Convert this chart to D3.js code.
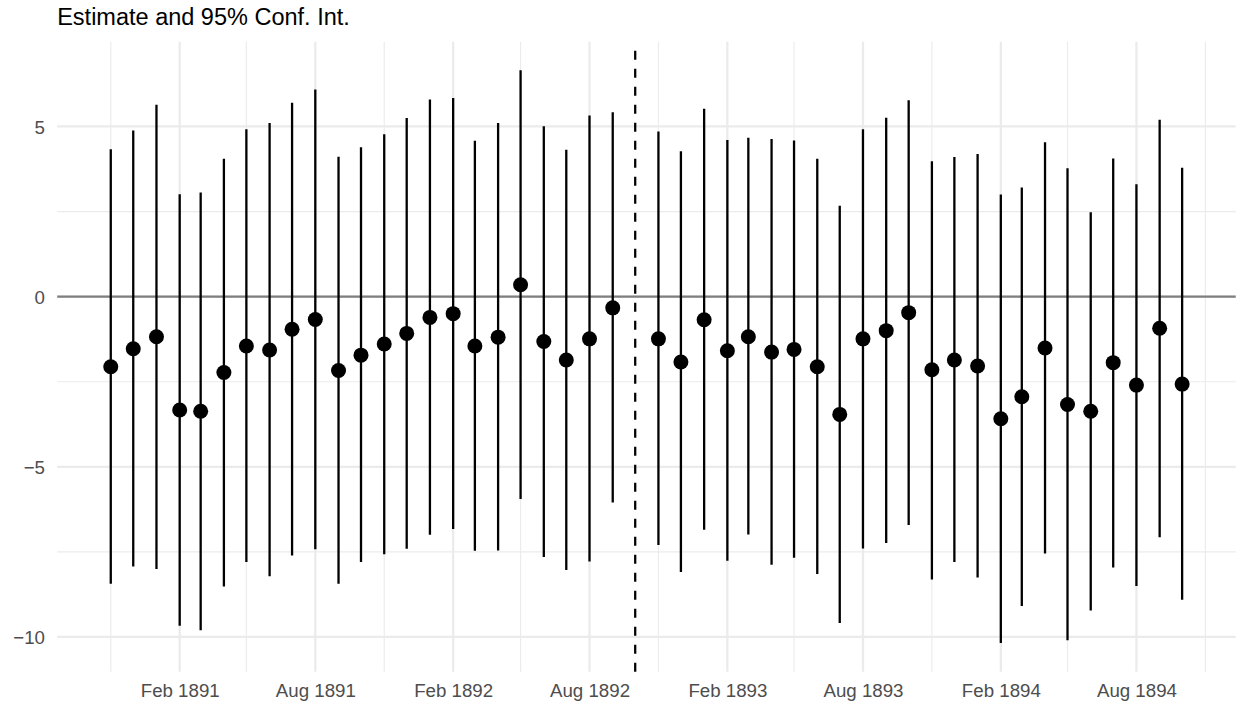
<!DOCTYPE html>
<html>
<head>
<meta charset="utf-8">
<script src="https://cdn.jsdelivr.net/npm/d3@7"></script>
<style>
  body { margin: 0; background: #ffffff; }
  svg { display: block; }
  text { font-family: "Liberation Sans", Arial, Helvetica, sans-serif; }
</style>
</head>
<body>
<svg id="chart" width="1238" height="706"></svg>
<script>
// Monthly event-study estimates with 95% confidence intervals
const months = [
  "1890-11","1890-12","1891-01","1891-02","1891-03","1891-04","1891-05","1891-06",
  "1891-07","1891-08","1891-09","1891-10","1891-11","1891-12","1892-01","1892-02",
  "1892-03","1892-04","1892-05","1892-06","1892-07","1892-08","1892-09",
  "1892-11","1892-12","1893-01","1893-02","1893-03","1893-04","1893-05","1893-06",
  "1893-07","1893-08","1893-09","1893-10","1893-11","1893-12","1894-01","1894-02",
  "1894-03","1894-04","1894-05","1894-06","1894-07","1894-08","1894-09","1894-10"
];
const estimate = [
  -2.06,-1.53,-1.18,-3.33,-3.37,-2.23,-1.45,-1.57,
  -0.96,-0.67,-2.17,-1.72,-1.39,-1.08,-0.61,-0.50,
  -1.45,-1.19,0.35,-1.32,-1.86,-1.24,-0.33,
  -1.24,-1.92,-0.68,-1.59,-1.18,-1.63,-1.55,-2.06,
  -3.46,-1.24,-1.00,-0.47,-2.15,-1.86,-2.04,-3.59,
  -2.94,-1.51,-3.17,-3.37,-1.94,-2.60,-0.93,-2.57
];
const lower = [
  -8.44,-7.93,-8.00,-9.67,-9.80,-8.52,-7.80,-8.22,
  -7.61,-7.42,-8.44,-7.80,-7.57,-7.41,-7.00,-6.83,
  -7.47,-7.46,-5.95,-7.65,-8.03,-7.78,-6.05,
  -7.30,-8.09,-6.85,-7.76,-6.99,-7.88,-7.67,-8.15,
  -9.59,-7.40,-7.24,-6.71,-8.31,-7.80,-8.25,-10.18,
  -9.09,-7.55,-10.10,-9.22,-7.96,-8.50,-7.07,-8.91
];
const upper = [
  4.33,4.88,5.64,3.01,3.06,4.05,4.92,5.10,
  5.70,6.09,4.11,4.39,4.77,5.25,5.79,5.84,
  4.58,5.10,6.65,5.01,4.32,5.32,5.42,
  4.85,4.27,5.52,4.60,4.67,4.63,4.59,4.05,
  2.67,4.92,5.26,5.77,3.98,4.10,4.19,3.00,
  3.21,4.54,3.77,2.48,4.06,3.30,5.20,3.79
];
const referenceMonth = "1892-10";
const xTickMonths = ["1891-02","1891-08","1892-02","1892-08","1893-02","1893-08","1894-02","1894-08"];
const xMinorMonths = ["1890-11","1891-05","1891-11","1892-05","1892-11","1893-05","1893-11","1894-05","1894-11"];
const yTicks = [-10, -5, 0, 5];
const yMinorTicks = [-7.5, -2.5, 2.5];
const titleText = "Estimate and 95% Conf. Int.";

const parseMonth = d3.utcParse("%Y-%m");
const fmtMonth = d3.utcFormat("%b %Y");

const data = months.map((m, i) => ({
  date: parseMonth(m), est: estimate[i], lo: lower[i], hi: upper[i]
}));

const W = 1238, H = 706;
const panel = { left: 57.2, right: 1235.7, top: 41.7, bottom: 671.7 };

// Continuous scales padded by 5% on each side of the data range
function expand(lo, hi, f) { const s = hi - lo; return [lo - s * f, hi + s * f]; }

const [dMin, dMax] = d3.extent(data, d => d.date);
const xDom = expand(+dMin, +dMax, 0.05).map(v => new Date(v));
const x = d3.scaleUtc().domain(xDom).range([panel.left, panel.right]);

const yDom = expand(d3.min(data, d => d.lo), d3.max(data, d => d.hi), 0.05);
const y = d3.scaleLinear().domain(yDom).range([panel.bottom, panel.top]);

const svg = d3.select("#chart");
svg.append("rect").attr("width", W).attr("height", H).attr("fill", "#ffffff");

const grid = svg.append("g").attr("class", "grid");
const gridColor = "#EBEBEB";

// Minor grid
grid.selectAll("line.ymin").data(yMinorTicks).join("line")
  .attr("class", "ymin")
  .attr("x1", panel.left).attr("x2", panel.right)
  .attr("y1", d => y(d)).attr("y2", d => y(d))
  .attr("stroke", gridColor).attr("stroke-width", 1.13);
grid.selectAll("line.xmin").data(xMinorMonths.map(parseMonth)).join("line")
  .attr("class", "xmin")
  .attr("x1", d => x(d)).attr("x2", d => x(d))
  .attr("y1", panel.top).attr("y2", panel.bottom)
  .attr("stroke", gridColor).attr("stroke-width", 1.13);

// Major grid
grid.selectAll("line.ymaj").data(yTicks).join("line")
  .attr("class", "ymaj")
  .attr("x1", panel.left).attr("x2", panel.right)
  .attr("y1", d => y(d)).attr("y2", d => y(d))
  .attr("stroke", gridColor).attr("stroke-width", 2.26);
grid.selectAll("line.xmaj").data(xTickMonths.map(parseMonth)).join("line")
  .attr("class", "xmaj")
  .attr("x1", d => x(d)).attr("x2", d => x(d))
  .attr("y1", panel.top).attr("y2", panel.bottom)
  .attr("stroke", gridColor).attr("stroke-width", 2.26);

// Axes (text only)
const xAxis = d3.axisBottom(x)
  .tickValues(xTickMonths.map(parseMonth))
  .tickFormat(fmtMonth)
  .tickSize(0).tickPadding(0);
const gx = svg.append("g")
  .attr("transform", `translate(0,${panel.bottom})`)
  .call(xAxis);
gx.select(".domain").remove();
gx.selectAll("text")
  .attr("y", 25.5).attr("dy", null)
  .attr("fill", "#4D4D4D")
  .style("font-size", "18.7px")
  .style("font-family", "'Liberation Sans', Arial, Helvetica, sans-serif");

const yAxis = d3.axisLeft(y)
  .tickValues(yTicks)
  .tickFormat(d => d < 0 ? "\u2212" + Math.abs(d) : String(d))
  .tickSize(0).tickPadding(0);
const gy = svg.append("g")
  .attr("transform", `translate(45,0)`)
  .call(yAxis);
gy.select(".domain").remove();
gy.selectAll("text")
  .attr("x", 0).attr("dy", "0.36em")
  .attr("fill", "#4D4D4D")
  .style("font-size", "18.7px")
  .style("font-family", "'Liberation Sans', Arial, Helvetica, sans-serif");

// Zero reference line
svg.append("line")
  .attr("x1", panel.left).attr("x2", panel.right)
  .attr("y1", y(0)).attr("y2", y(0))
  .attr("stroke", "#7F7F7F").attr("stroke-width", 2.26);

// Reference-period marker
const refX = x(parseMonth(referenceMonth));
svg.append("line")
  .attr("x1", refX).attr("x2", refX)
  .attr("y1", panel.bottom).attr("y2", panel.top)
  .attr("stroke", "#000000").attr("stroke-width", 2.26)
  .attr("stroke-dasharray", "9,9");

// Confidence intervals
svg.append("g").selectAll("line").data(data).join("line")
  .attr("x1", d => x(d.date)).attr("x2", d => x(d.date))
  .attr("y1", d => y(d.lo)).attr("y2", d => y(d.hi))
  .attr("stroke", "#000000").attr("stroke-width", 2.3);

// Point estimates
svg.append("g").selectAll("circle").data(data).join("circle")
  .attr("cx", d => x(d.date)).attr("cy", d => y(d.est))
  .attr("r", 7.5).attr("fill", "#000000");

// Title
svg.append("text")
  .attr("x", panel.left).attr("y", 25)
  .attr("fill", "#000000")
  .style("font-size", "23.5px")
  .text(titleText);
</script>
</body>
</html>
